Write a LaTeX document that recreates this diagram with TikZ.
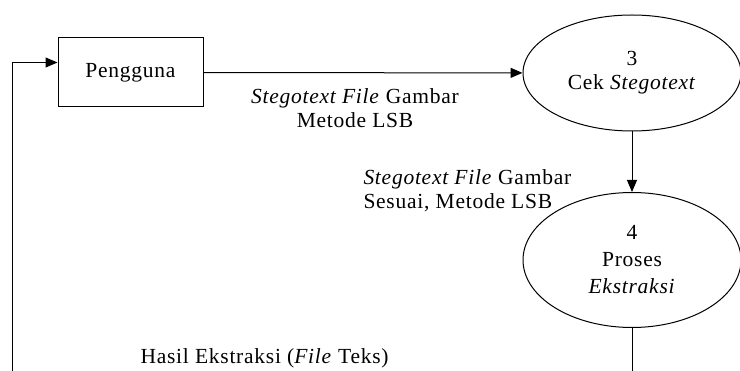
\documentclass[tikz,border=0pt]{standalone}
\usepackage{fontspec}
\setmainfont{Liberation Serif}[LetterSpace=3.5]
\usetikzlibrary{shapes.geometric,arrows.meta}

\begin{document}
\begin{tikzpicture}[x=1pt,y=-1pt,font=\fontsize{21.5}{24}\selectfont,line width=1pt,>={Triangle[length=12pt,width=10pt]}]
		\useasboundingbox (0,0) rectangle (740,371);

		\begin{scope}[every node/.style={draw,align=center,inner sep=0pt}]
			\node [rectangle,minimum width=145,minimum height=69] (A) at (130.5,72.5) {Pengguna};
			\node [ellipse,minimum width=218,minimum height=116] (B) at (632,73) {3\\Cek \textit{Stegotext}};
			\node [ellipse,minimum width=218,minimum height=135,font=\fontsize{21.5}{27}\selectfont] (C) at (632,260) {4\\Proses\\\textit{Ekstraksi}};
		\end{scope}

		\coordinate (R) at (12,371);
		\coordinate (S) at (632,371);

		\begin{scope}[every node/.style={inner sep=0pt}]
			\node [align=center] (L1) at (355,108) {\textit{Stegotext File} Gambar\\Metode LSB};
			\node [align=left,anchor=west] (L2) at (363,191) {\textit{Stegotext File} Gambar\\Sesuai, Metode LSB};
			\node [anchor=west] (L3) at (140,358) {Hasil Ekstraksi (\textit{File} Teks)};
		\end{scope}

		\begin{scope}[every edge/.style={draw=black, line width=1pt}]
			\path [->] (A) edge (B);
			\path [->] (B) edge (C);
			\path [-] (C) edge (S);
		\end{scope}

		\draw [->] (R) |- ([yshift=10pt]A.west);

	\end{tikzpicture}
\end{document}
